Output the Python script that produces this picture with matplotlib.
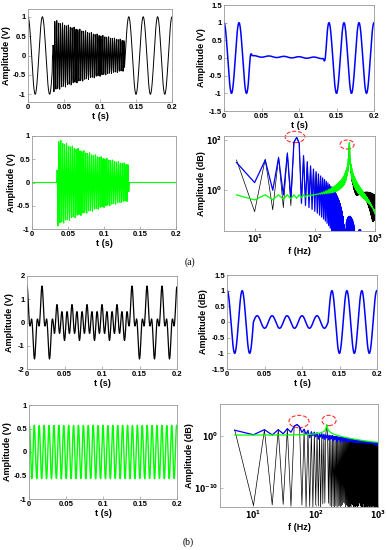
#plot.py
#two-component signal demo: time traces and spectra for cases (a) and (b)

import numpy as np
import matplotlib.pyplot as plt
import matplotlib.transforms as mtrans
from matplotlib.patches import Ellipse
from matplotlib.ticker import FormatStrFormatter, FuncFormatter, NullLocator

plt.rcParams['font.family'] = ['Liberation Sans', 'DejaVu Sans']
plt.rcParams['font.weight'] = 'bold'
plt.rcParams['axes.labelweight'] = 'bold'

# sampling (5 Hz bins as seen on the spectra)
fs = 2500
n_samp = 500

# case (a): 50 Hz tone interrupted by a decaying 375 Hz burst
a_tone_freq = 50
a_burst_freq = 375
a_burst_span = [0.034, 0.134]      # s, burst in the mixture
a_green_span = [0.035, 0.1345]     # s, centres of the green on/off ramps
a_low_span = [0.035, 0.135]        # s, where the recovered low part goes flat
a_burst_amp = [0.95, 0.40]         # envelope at start / end of burst
a_flat_level = [0.05, 0.0]         # low part level at start / end of flat stretch
a_ripple_amp = 0.02
a_ramp_w = [0.006, 0.0015]         # s, blue / green on-off ramp widths

# case (b): 50 Hz tone (amplitude drops in the middle) + 150 Hz tone
b_freqs = [50, 150]
b_amps = [1.0, 0.57]
b_mid_span = [0.035, 0.135]
b_mid_amp = 0.2
b_est_freqs = [50.15, 150.8]       # recovered components are slightly off-bin

# ellipse marks on the spectra, axes fraction (x, y, w, h)
a_marks = [[0.47, 0.99, 0.13, 0.12], [0.815, 0.91, 0.093, 0.095]]
b_marks = [[0.50, 0.83, 0.127, 0.12], [0.69, 0.84, 0.089, 0.10]]

t = np.arange(n_samp) / fs
idx = np.arange(n_samp)
def span_mask(sp):
    return (idx >= int(round(sp[0] * fs))) & (idx < int(round(sp[1] * fs)))

def smooth_gate(sp, w):
    def step(c):
        u = np.clip((t - (c - w / 2)) / w, 0, 1)
        return 0.5 - 0.5 * np.cos(np.pi * u)
    return step(sp[0]) - step(sp[1])

# ---- build case (a)
inb = span_mask(a_burst_span)
tau = (a_burst_span[1] - a_burst_span[0]) / np.log(a_burst_amp[0] / a_burst_amp[1])
env = a_burst_amp[0] * np.exp(-(t - a_burst_span[0]) / tau)
burst = env * np.sin(2 * np.pi * a_burst_freq * (t - a_burst_span[0]))
a_green = burst * smooth_gate(a_green_span, a_ramp_w[1])
tone = np.cos(2 * np.pi * a_tone_freq * t)
level = np.interp(t, a_low_span, a_flat_level)
g_low = smooth_gate(a_low_span, a_ramp_w[0])
a_blue = tone * (1 - g_low) + (level + a_ripple_amp * tone) * g_low
a_black = np.where(inb, a_green, tone)

# ---- build case (b)
inm = span_mask(b_mid_span)
amp50 = np.where(inm, b_mid_amp, b_amps[0])
b_black = amp50 * np.cos(2 * np.pi * b_freqs[0] * t) + b_amps[1] * np.cos(2 * np.pi * b_freqs[1] * t)
b_blue = amp50 * np.cos(2 * np.pi * b_est_freqs[0] * (t - 0.1) + 2 * np.pi * b_freqs[0] * 0.1)
b_green = b_amps[1] * np.cos(2 * np.pi * b_est_freqs[1] * (t - 0.1) + 2 * np.pi * b_freqs[1] * 0.1)

f = np.fft.rfftfreq(n_samp, 1 / fs)[1:]
def spec(x):
    return np.abs(np.fft.rfft(x))[1:]

fig = plt.figure(figsize=(3.87, 5.50), dpi=100)
W, H = 387.0, 550.0
def box(l, r, top, bot):
    return fig.add_axes([l / W, 1 - bot / H, (r - l) / W, (bot - top) / H])

ax1 = box(28, 172, 9, 102)
ax2 = box(224, 374, 5, 111)
ax3 = box(32, 176, 136, 229)
ax4 = box(224, 375, 136, 231)
ax5 = box(27, 177, 276, 369)
ax6 = box(227, 377, 275, 369)
ax7 = box(29, 177, 405, 499)
ax8 = box(220, 378, 404, 507)

fs_tick = 5.5
fs_lab = 6.5

def style(ax, label_x):
    for s in ax.spines.values():
        s.set_color('#999999')
        s.set_linewidth(0.6)
    ax.tick_params(direction='in', length=2, width=0.5, color='#999999',
                   labelsize=fs_tick, pad=1.5)
    for lb in ax.get_xticklabels() + ax.get_yticklabels():
        lb.set_fontweight('bold')
    tr = mtrans.blended_transform_factory(fig.transFigure, ax.transAxes)
    ax.yaxis.set_label_coords(label_x / W, 0.5, transform=tr)

def time_ax(ax, y, color, ylim, yticks, ylab, label_x, lw=0.9):
    ax.plot(t, y, color=color, lw=lw)
    ax.set_xlim(0, 0.2)
    ax.set_ylim(ylim)
    ax.set_xticks([0, 0.05, 0.1, 0.15, 0.2])
    ax.set_yticks(yticks)
    ax.xaxis.set_major_formatter(FormatStrFormatter('%g'))
    ax.yaxis.set_major_formatter(FormatStrFormatter('%g'))
    ax.set_xlabel('t (s)', fontsize=fs_lab, labelpad=1)
    ax.set_ylabel(ylab, fontsize=fs_lab, va='center')
    style(ax, label_x)

logfmt = FuncFormatter(lambda v, p: r'$\mathbf{10^{%d}}$' % int(round(np.log10(v))))

def spec_ax(ax, sigs, xlim, ylim, yticks, marks, label_x):
    ax.loglog(f, spec(sigs[0]), color='k', lw=0.5)
    ax.loglog(f, spec(sigs[1]), color='#0000ff', lw=0.9)
    ax.loglog(f, spec(sigs[2]), color='#00ff00', lw=0.9)
    ax.set_xlim(xlim)
    ax.set_ylim(ylim)
    ax.set_xticks([10, 100, 1000])
    ax.set_yticks(yticks)
    ax.xaxis.set_major_formatter(logfmt)
    ax.yaxis.set_major_formatter(logfmt)
    ax.xaxis.set_minor_locator(NullLocator())
    ax.yaxis.set_minor_locator(NullLocator())
    ax.set_xlabel('f (Hz)', fontsize=fs_lab, labelpad=1)
    ax.set_ylabel('Amplitude (dB)', fontsize=fs_lab, va='center')
    for m in marks:
        ax.add_patch(Ellipse((m[0], m[1]), m[2], m[3], transform=ax.transAxes,
                             fill=False, ec='#ff3030', ls='--', lw=0.8, clip_on=False))
    style(ax, label_x)

time_ax(ax1, a_black, 'k', (-1.2, 1.2), [-1, -0.5, 0, 0.5, 1], 'Amplitude (V)', 7, lw=0.7)
time_ax(ax2, a_blue, '#0000ff', (-1.5, 1.5), [-1.5, -1, -0.5, 0, 0.5, 1, 1.5], 'Amplitude (V)', 201, lw=1.1)
time_ax(ax3, a_green, '#00ff00', (-1, 1), [-1, -0.5, 0, 0.5, 1], 'Amplitude (V)', 11.5, lw=0.8)
spec_ax(ax4, [a_black, a_blue, a_green], (3.1, 1000), (10 ** -1.64, 10 ** 2.16), [1, 100], a_marks, 202)

time_ax(ax5, b_black, 'k', (-2, 2), [-2, -1, 0, 1, 2], 'Amplitude (V)', 10, lw=0.9)
time_ax(ax6, b_blue, '#0000ff', (-1.5, 1.5), [-1.5, -1, -0.5, 0, 0.5, 1, 1.5], 'Amplitude (dB)', 203, lw=1.1)
time_ax(ax7, b_green, '#00ff00', (-1, 1), [-1, -0.5, 0, 0.5, 1], 'Amplitude (V)', 8, lw=1.0)
spec_ax(ax8, [b_black, b_blue, b_green], (2.9, 860), (10 ** -13.6, 10 ** 6.1), [1e-10, 1], b_marks, 190)

fig.text(190 / W, 1 - 262 / H, '(a)', ha='center', va='center', fontsize=7,
         family='Liberation Serif', fontweight='normal')
fig.text(188 / W, 1 - 542 / H, '(b)', ha='center', va='center', fontsize=7,
         family='Liberation Serif', fontweight='normal')

fig.savefig('out.png', dpi=100)
